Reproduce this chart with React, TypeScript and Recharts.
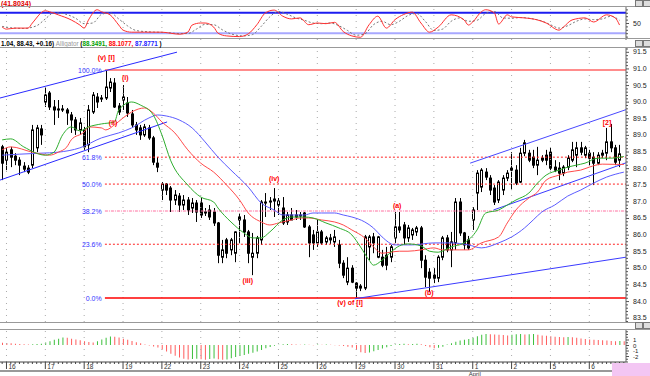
import React from "react";
import { ComposedChart, Bar, Line, XAxis, YAxis, ReferenceLine, ReferenceDot, Cell } from "recharts";

const FONT = "'Liberation Sans', Arial, sans-serif";
const N = 145;

// day starts (candle index) and their labels
const dayIdx = [1, 10, 19, 28, 37, 46, 55, 64, 73, 82, 91, 100, 109, 118, 127, 136];
const dayLabels = ["16", "17", "18", "19", "22", "23", "24", "25", "26", "29", "30", "31", "1", "2", "5", "6"];
const monthIdx = [109];
const monthLabels = ["April"];

const opens = [88.64,88.24,88.55,88.36,88.24,88.06,88.00,88.09,88.61,89.18,
89.99,90.26,89.84,89.78,89.78,89.75,89.60,89.45,89.15,89.15,
88.70,89.69,90.14,90.11,90.11,90.41,90.56,89.87,90.05,89.96,
89.63,89.30,89.21,89.00,89.21,88.91,88.15,87.34,87.52,87.40,
87.04,87.16,86.89,87.04,86.80,86.95,86.95,86.68,86.74,86.68,
86.35,85.32,85.84,85.54,85.44,86.53,86.44,86.08,85.32,85.44,
85.84,86.95,86.98,87.01,86.89,86.80,86.38,86.59,86.59,86.56,
86.65,86.23,85.99,85.75,86.08,85.78,85.84,85.78,85.69,85.14,
84.57,84.99,84.54,84.39,84.39,85.63,85.93,85.32,85.32,85.38,
85.32,85.90,86.23,86.29,85.90,85.99,86.08,86.20,85.23,84.87,
84.78,84.69,85.32,85.90,85.54,85.75,86.98,86.05,85.84,86.44,
87.25,87.43,87.88,87.70,87.40,87.04,87.34,87.70,88.00,87.94,
87.58,88.45,88.45,88.33,88.09,88.24,88.39,88.48,88.03,88.00,
87.85,88.03,88.24,88.39,88.61,88.39,88.45,88.33,88.15,88.39,
88.45,88.79,88.61,88.24];
const highs = [88.70,88.61,88.64,88.45,88.33,88.18,88.09,89.30,89.30,89.30,
90.44,90.32,90.05,90.05,89.90,89.81,89.69,89.54,89.51,89.24,
89.90,90.29,90.26,90.20,90.95,90.71,90.71,89.96,90.50,90.14,
89.75,89.39,89.30,89.33,89.30,88.97,88.33,87.58,87.55,87.46,
87.34,87.25,87.19,87.13,87.10,87.04,87.10,86.80,86.89,86.80,
86.38,85.84,85.90,85.90,86.10,86.65,86.59,86.14,86.05,85.96,
87.04,87.25,87.13,87.40,87.10,87.13,86.68,86.80,86.74,86.68,
86.68,86.29,86.14,86.44,86.14,85.96,86.02,86.14,85.84,85.23,
85.32,85.08,84.57,84.51,85.99,85.99,86.05,85.96,85.54,85.63,
85.69,86.68,86.68,86.38,86.29,86.20,86.26,86.26,85.38,84.99,
84.99,85.38,85.96,85.99,86.08,87.10,87.10,86.08,85.96,86.83,
87.94,88.00,88.00,87.79,87.49,87.64,87.79,87.94,88.48,88.09,
88.61,88.85,88.55,88.55,88.64,88.39,88.55,88.61,88.24,88.18,
88.09,88.39,88.79,88.79,88.79,88.67,88.55,88.48,88.48,88.55,
89.21,89.33,88.70,88.70];
const lows = [87.64,87.94,88.03,88.09,87.79,87.88,87.82,88.00,88.48,88.70,
89.84,89.75,89.30,89.51,89.69,89.30,89.06,89.00,89.00,88.55,
88.48,89.63,89.81,89.99,90.05,90.29,89.81,89.60,89.75,89.54,
89.21,89.00,88.85,88.94,88.85,88.09,87.88,87.04,87.19,86.68,
86.89,86.68,86.74,86.59,86.65,86.38,86.50,86.56,86.44,86.26,
85.14,85.14,85.29,85.38,85.17,85.75,85.93,85.14,84.78,85.29,
85.69,86.53,86.74,86.53,86.59,86.29,86.29,86.44,86.44,86.44,
86.20,85.32,85.54,85.63,85.69,85.69,85.72,85.63,84.99,84.69,
84.48,84.54,84.09,84.30,84.33,85.23,85.44,85.29,85.02,84.93,
85.17,85.75,86.05,85.69,85.78,85.84,85.96,84.99,84.42,84.27,
84.54,84.57,85.23,85.47,85.02,85.54,85.96,85.54,85.54,86.14,
86.74,87.28,87.64,87.19,86.89,86.95,87.19,87.61,87.34,87.49,
87.55,88.36,88.18,88.00,87.79,88.18,88.09,87.94,87.88,87.64,
87.76,87.94,88.18,88.03,88.39,88.30,88.09,87.49,88.09,88.30,
88.24,88.48,88.09,88.03];
const closes = [88.15,88.48,88.33,88.24,88.09,87.97,87.88,89.15,89.21,89.00,
90.20,89.84,89.75,89.75,89.77,89.66,89.45,89.15,89.36,88.64,
89.75,90.20,89.99,90.08,90.44,90.59,89.84,89.69,90.14,89.66,
89.30,89.15,89.00,89.24,88.91,88.18,88.03,87.52,87.34,87.04,
87.19,86.89,87.04,86.74,86.95,86.68,86.59,86.65,86.53,86.35,
85.38,85.54,85.44,85.84,86.08,86.44,86.08,85.44,85.44,85.90,
86.98,86.98,87.01,87.07,87.01,86.35,86.59,86.44,86.53,86.59,
86.23,85.75,85.75,86.08,85.75,85.90,85.90,85.93,85.14,84.78,
84.99,84.57,84.39,84.45,85.93,85.93,85.75,85.93,85.08,85.08,
85.63,86.23,86.14,85.90,86.20,86.14,86.20,85.23,84.72,84.69,
84.69,85.32,85.90,85.54,85.78,86.98,86.05,85.69,85.60,86.74,
87.85,87.94,87.73,87.34,86.98,87.58,87.70,87.85,87.94,87.55,
88.45,88.76,88.24,88.09,88.24,88.30,88.24,88.00,87.94,87.85,
88.03,88.30,88.55,88.61,88.48,88.61,88.30,88.15,88.39,88.45,
88.79,88.61,88.18,88.43];

// Alligator lines, read at sample candles: [index, price]
const lipsPts: [number, number][] = [[0,88.85],[2,88.88],[5,88.64],[10,88.39],[12,88.48],[14,89.00],[16,89.24],[18,89.12],[20,89.24],[23,89.33],[26,89.39],[27,89.75],[30,89.99],[32,89.90],[35,89.60],[37,89.00],[39,88.24],[43,87.49],[46,87.13],[49,86.98],[50,86.80],[53,86.38],[56,86.05],[58,85.90],[60,85.90],[62,86.08],[65,86.44],[67,86.53],[70,86.53],[72,86.50],[75,86.35],[78,86.20],[81,85.99],[83,85.63],[85,85.23],[86,85.08],[88,85.23],[90,85.47],[92,85.66],[94,85.72],[97,85.66],[99,85.50],[101,85.47],[104,85.63],[107,85.75],[110,86.14],[112,86.65],[115,86.74],[117,86.89],[119,87.04],[122,87.25],[124,87.55],[126,87.79],[129,87.94],[131,88.03],[133,88.09],[135,88.15],[138,88.30],[141,88.30],[144,88.35]];
const teethPts: [number, number][] = [[0,88.55],[2,88.64],[7,88.48],[11,88.39],[13,88.48],[15,88.64],[16,88.85],[19,89.09],[20,89.24],[23,89.21],[24,89.15],[26,89.30],[28,89.51],[30,89.69],[33,89.81],[35,89.66],[37,89.39],[40,89.06],[43,88.55],[46,88.15],[49,87.88],[52,87.49],[55,87.04],[57,86.65],[60,86.38],[62,86.29],[64,86.35],[67,86.44],[69,86.50],[71,86.50],[74,86.44],[77,86.38],[79,86.29],[81,86.14],[84,85.90],[86,85.63],[88,85.44],[90,85.47],[92,85.50],[94,85.50],[97,85.54],[100,85.60],[102,85.54],[106,85.54],[108,85.54],[111,85.75],[115,85.93],[117,86.35],[119,86.74],[122,87.10],[124,87.28],[126,87.64],[129,87.79],[131,87.88],[134,87.94],[136,88.03],[139,88.12],[144,88.11]];
const jawPts: [number, number][] = [[0,88.39],[4,88.42],[9,88.45],[13,88.48],[18,88.61],[23,88.91],[27,89.06],[30,89.21],[34,89.51],[36,89.60],[38,89.57],[41,89.45],[44,89.21],[47,88.79],[50,88.33],[53,87.94],[57,87.43],[60,86.95],[63,86.74],[65,86.59],[67,86.59],[70,86.59],[72,86.65],[74,86.65],[77,86.65],[79,86.59],[81,86.53],[84,86.38],[86,86.20],[88,85.93],[91,85.69],[93,85.69],[95,85.69],[100,85.75],[104,85.75],[108,85.69],[111,85.60],[115,85.75],[118,85.93],[121,86.20],[123,86.44],[125,86.68],[128,86.89],[131,87.16],[134,87.34],[137,87.55],[140,87.73],[144,87.88]];

// Stochastic %K (red) and %D (dotted)
const stochKPts: [number, number][] = [[0,38],[1,32],[3,35],[6,35],[7,50],[10,86],[11,83],[13,74],[16,59],[18,44],[19,35],[20,59],[22,89],[23,83],[25,74],[27,44],[28,29],[30,23],[33,23],[35,23],[37,23],[39,20],[41,17],[43,23],[44,44],[46,50],[47,50],[49,38],[50,20],[52,12],[55,10],[57,18],[59,45],[61,80],[63,88],[65,70],[67,62],[69,65],[71,45],[73,50],[75,48],[77,52],[79,25],[81,12],[83,8],[85,45],[87,70],[89,35],[91,60],[93,75],[95,82],[97,50],[99,23],[101,38],[104,74],[107,59],[108,44],[109,53],[111,83],[112,89],[114,80],[115,47],[117,74],[118,68],[121,65],[124,59],[126,50],[129,29],[130,38],[132,59],[135,65],[137,53],[140,74],[142,65],[143,44]];
const stochDPts: [number, number][] = [[0,40],[2,36],[5,34],[8,42],[10,62],[12,80],[14,78],[17,64],[19,48],[21,50],[23,75],[25,80],[27,62],[29,42],[31,28],[34,24],[38,22],[41,19],[43,19],[45,32],[47,46],[49,45],[51,30],[53,18],[56,12],[58,16],[60,40],[62,68],[64,84],[66,76],[68,65],[70,58],[72,50],[74,48],[76,50],[78,42],[80,28],[82,14],[84,18],[86,45],[88,55],[90,45],[92,55],[94,72],[96,78],[98,55],[100,28],[102,32],[104,55],[106,65],[108,55],[110,58],[112,78],[114,84],[116,65],[118,64],[120,66],[123,62],[125,56],[127,45],[129,35],[131,42],[133,55],[135,62],[137,60],[139,62],[141,70],[143,58]];

// Awesome oscillator
const aoValues = [0.4,0.35,0.3,0.25,0.2,0.15,0.1,0.15,0.2,0.25,
0.45,0.7,0.95,1.15,1.35,
1.3,1.15,1.0,0.85,0.7,0.55,0.45,
0.7,1.0,1.3,1.55,
1.5,1.35,1.15,0.95,0.75,0.5,0.3,
0.1,-0.1,-0.25,-0.45,
-0.8,-1.2,-1.6,-1.95,-2.25,-2.5,-2.65,
-2.55,-2.5,-2.6,-2.7,-2.55,-2.45,-2.6,-2.7,-2.65,-2.4,
-2.2,-2.0,-1.8,-1.6,-1.4,-1.2,-0.9,-0.6,
-0.35,-0.15,0.05,0.15,0.2,0.15,0.1,0.05,0.1,0.05,-0.05,0.1,0.05,
0.1,0.05,-0.05,-0.1,-0.2,-0.3,-0.45,
-0.9,-1.3,-1.45,
-1.35,-1.15,-0.9,-0.65,-0.4,-0.2,
0.1,0.2,0.25,0.15,0.2,0.25,0.15,
-0.2,-0.4,-0.6,-0.5,
-0.3,0.1,0.3,0.6,0.8,0.95,1.1,
1.3,1.6,1.85,2.0,
1.95,1.9,1.85,1.8,1.75,
1.85,1.95,2.0,1.9,1.95,2.0,1.85,1.75,1.7,
1.6,1.5,1.45,1.4,1.45,1.4,1.3,1.2,1.1,
1.0,0.95,0.9,0.85,0.8,0.75,0.7,0.75,0.7];

// price axis labels
const priceTicks = [83.5,84,84.5,85,85.5,86,86.5,87,87.5,88,88.5,89,89.5,90,90.5,91,91.5];

// Fibonacci retracement levels
const fibLabels = ["100.0%", "61.8%", "50.0%", "38.2%", "23.6%", "0.0%"];
const fibValues = [90.95, 88.33, 87.52, 86.71, 85.71, 84.09];
const fibStartIdx = 23.8;
const fibLabelIdx = 23.3;

// trend lines: [x1, y1, x2, y2] in (candle index, price)
const trendLines: [number, number, number, number][] = [
  [-0.5, 90.11, 40.5, 91.49],
  [-0.5, 87.64, 38.2, 89.39],
  [81.7, 84.07, 144.5, 85.32],
  [108.4, 88.15, 144.5, 89.76],
  [113.8, 86.74, 144.5, 88.16],
];

// Elliott wave labels
const waveLabels = ["(v) [I]", "(i)", "(ii)", "(iii)", "(iv)", "(v) of [I]", "(a)", "(b)", "[2]"];
const waveIdx = [24.1, 28.5, 25.7, 56.9, 63.0, 80.6, 91.5, 98.9, 140.1];
const wavePrice = [91.34, 90.74, 89.36, 84.63, 87.70, 83.97, 86.89, 84.27, 89.36];

const table = Array.from({ length: N }, (_, i) => ({
  i,
  open: opens[i] ?? null,
  high: highs[i] ?? null,
  low: lows[i] ?? null,
  close: closes[i] ?? null,
  range: opens[i] != null ? [lows[i], highs[i]] : null,
  lips: null as number | null,
  teeth: null as number | null,
  jaw: null as number | null,
  k: null as number | null,
  d: null as number | null,
  ao: aoValues[i] ?? null,
}));
lipsPts.forEach(([i, v]) => (table[i].lips = v));
teethPts.forEach(([i, v]) => (table[i].teeth = v));
jawPts.forEach(([i, v]) => (table[i].jaw = v));
stochKPts.forEach(([i, v]) => (table[i].k = v));
stochDPts.forEach(([i, v]) => (table[i].d = v));

const allIdx = table.map((r) => r.i);
const minorPriceTicks = Array.from({ length: 83 }, (_, k) => Math.round((83.4 + k * 0.1) * 10) / 10);
const stochTicks = [0, 10, 20, 30, 40, 50, 60, 70, 80, 90, 100];
const stochLabels = [50];
const aoTicks = [-3, -2.5, -2, -1.5, -1, -0.5, 0, 0.5, 1, 1.5, 2, 2.5];
const aoLabels = [1, 0, -1, -2];

const Candle = (props: any) => {
  const { x, y, width, height, payload } = props;
  if (!payload || payload.open == null) return <g />;
  const { open, close, high, low } = payload;
  const yTop = Math.min(y, y + height);
  const yBot = Math.max(y, y + height);
  const span = high - low || 1;
  const toY = (v: number) => yTop + ((high - v) / span) * (yBot - yTop);
  const cx = Math.round(x + width / 2);
  const yo = toY(open);
  const yc = toY(close);
  const bodyTop = Math.min(yo, yc);
  const bodyH = Math.max(1, Math.abs(yo - yc));
  const up = close >= open;
  return (
    <g>
      <line x1={cx + 0.5} x2={cx + 0.5} y1={yTop} y2={yBot} stroke="#000" strokeWidth={1} />
      <rect x={cx - 0.5} y={bodyTop} width={2} height={bodyH} fill={up ? "#fff" : "#000"} stroke="#000" strokeWidth={1} />
    </g>
  );
};

const makeYTick = (labels: number[], fmt: (v: number) => string, size: number) => (props: any) => {
  const { x, y, payload } = props;
  const v = payload.value;
  const major = labels.some((l) => Math.abs(l - v) < 1e-6);
  return (
    <g>
      <line x1={x} x2={x + (major ? 3 : 2)} y1={y + 0.5} y2={y + 0.5} stroke="#555" strokeWidth={1} />
      {major && (
        <text x={x + 7} y={y + 2.5} fontSize={size} fill="#222" fontFamily={FONT}>
          {fmt(v)}
        </text>
      )}
    </g>
  );
};

const PriceTick = makeYTick(priceTicks, (v) => v.toFixed(1), 7);
const StochTick = makeYTick(stochLabels, (v) => String(v), 7);
const AoTick = makeYTick(aoLabels, (v) => String(v), 6);

const XTick = (props: any) => {
  const { x, y, payload } = props;
  const d = dayIdx.indexOf(payload.value);
  const m = monthIdx.indexOf(payload.value);
  if (d < 0) return <line x1={x} x2={x} y1={y} y2={y + 2} stroke="#444" strokeWidth={1} />;
  return (
    <g>
      <line x1={x} x2={x} y1={y} y2={y + 7} stroke="#444" strokeWidth={1} />
      <text x={x + 2} y={y + 6.5} fontSize={6.5} fill="#333" fontFamily={FONT}>
        {dayLabels[d]}
      </text>
      {m >= 0 && (
        <text x={x - 4} y={y + 13.5} fontSize={6} fill="#333" fontFamily={FONT}>
          {monthLabels[m]}
        </text>
      )}
    </g>
  );
};

const WaveLabel = (props: any) => {
  const { viewBox, text } = props;
  if (!viewBox) return null;
  const cx = viewBox.x + (viewBox.width || 0) / 2;
  const cy = viewBox.y + (viewBox.height || 0) / 2;
  return (
    <text x={cx} y={cy + 2.5} textAnchor="middle" fontSize={7} fontWeight="bold" fill="#ff0000" fontFamily={FONT}>
      {text}
    </text>
  );
};

const FibLabel = (props: any) => {
  const { viewBox, text } = props;
  if (!viewBox) return null;
  return (
    <text x={viewBox.x - 1} y={viewBox.y + 2.5} textAnchor="end" fontSize={7} fill="#3535ff" fontFamily={FONT}>
      {text}
    </text>
  );
};

const hline = (top: number, color = "#888", h = 1) => (
  <div style={{ position: "absolute", left: 0, top, width: 650, height: h, background: color }} />
);

const Icons = ({ top }: { top: number }) => (
  <div style={{ position: "absolute", left: 635, top, width: 15, height: 6 }}>
    <div style={{ position: "absolute", left: 0, top: 0, width: 6, height: 5, border: "1px solid #777", background: "#ddd" }} />
    <div style={{ position: "absolute", left: 8, top: 0, width: 6, height: 5, border: "1px solid #777", background: "#ddd" }} />
  </div>
);

const fibStroke = ["#ff8c8c", "#ff2020", "#ff2020", "#ff70a0", "#ff2020", "#ff0000"];
const fibDash = [undefined, "2 2", "2 2", "3 1 1 1", "2 2", undefined];
const fibWidth = [2, 1, 1, 1, 1, 1.5];
const trendStroke = ["#2a2aff", "#2a2aff", "#3a3aff", "#4848ff", "#3a3aff"];

export default function App() {
  return (
    <div style={{ position: "absolute", left: 0, top: 0, width: 650, height: 376, background: "#fff", overflow: "hidden", fontFamily: FONT }}>
      {/* Stochastic panel */}
      <div style={{ position: "absolute", left: 0, top: 0 }}>
        <ComposedChart width={650} height={40} data={table} margin={{ top: 6, right: 0, bottom: 0, left: 0 }}>
          <XAxis dataKey="i" type="number" domain={[-0.5, N - 0.5]} hide />
          <YAxis orientation="right" width={24} domain={[0, 100]} ticks={stochTicks} interval={0} tickLine={false} tickSize={0} tickMargin={0} axisLine={{ stroke: "#666" }} tick={<StochTick />} allowDataOverflow />
          {dayIdx.map((d) => (
            <ReferenceLine key={"sd" + d} x={d} stroke="#aaa" strokeDasharray="1 5" />
          ))}
          <ReferenceLine y={80} stroke="#1c1cf0" strokeWidth={2} />
          <ReferenceLine y={20} stroke="#a8a8ff" strokeWidth={2} />
          <Line type="monotone" dataKey="d" stroke="#777" strokeWidth={1} strokeDasharray="2 2" dot={false} connectNulls isAnimationActive={false} />
          <Line type="monotone" dataKey="k" stroke="#ff3030" strokeWidth={1} dot={false} connectNulls isAnimationActive={false} />
        </ComposedChart>
      </div>
      <div style={{ position: "absolute", left: 1, top: 0, fontSize: 7, fontWeight: "bold", color: "#e00000", lineHeight: "7px" }}>(41.8034)</div>
      {hline(6, "#999")}
      <Icons top={0} />

      {/* main header */}
      {hline(38, "#999")}
      {hline(47, "#999")}
      <div style={{ position: "absolute", left: 1, top: 39.5, fontSize: 6.3, lineHeight: "7px", fontWeight: "bold", whiteSpace: "nowrap", color: "#000" }}>
        <span>1.04, 88.43, +0.16)</span>{" "}
        <span style={{ color: "#999", fontWeight: "normal" }}>Alligator</span>{" "}
        <span>(</span>
        <span style={{ color: "#00a000" }}>88.3491,</span>{" "}
        <span style={{ color: "#ff0000" }}>88.1077,</span>{" "}
        <span style={{ color: "#2020ff" }}>87.8771</span>
        <span> )</span>
      </div>
      <Icons top={40} />

      {/* Main price panel */}
      <div style={{ position: "absolute", left: 0, top: 48 }}>
        <ComposedChart width={650} height={274} data={table} margin={{ top: 0, right: 0, bottom: 0, left: 0 }}>
          <XAxis dataKey="i" type="number" domain={[-0.5, N - 0.5]} hide />
          <YAxis orientation="right" width={24} domain={[83.37, 91.615]} ticks={minorPriceTicks} interval={0} tickLine={false} tickSize={0} tickMargin={0} axisLine={{ stroke: "#666" }} tick={<PriceTick />} allowDataOverflow />
          {dayIdx.map((d) => (
            <ReferenceLine key={"md" + d} x={d} stroke="#aaa" strokeDasharray="1 5" />
          ))}
          {fibValues.map((v, k) => (
            <ReferenceLine key={"fib" + k} segment={[{ x: fibStartIdx, y: v }, { x: N - 0.5, y: v }]} stroke={fibStroke[k]} strokeWidth={fibWidth[k]} strokeDasharray={fibDash[k]} />
          ))}
          {trendLines.map((t, k) => (
            <ReferenceLine key={"tl" + k} segment={[{ x: t[0], y: t[1] }, { x: t[2], y: t[3] }]} stroke={trendStroke[k]} strokeWidth={1} />
          ))}
          <Line type="monotone" dataKey="jaw" stroke="#5c5cff" strokeWidth={1} dot={false} connectNulls isAnimationActive={false} />
          <Line type="monotone" dataKey="teeth" stroke="#ff4a4a" strokeWidth={1} dot={false} connectNulls isAnimationActive={false} />
          <Line type="monotone" dataKey="lips" stroke="#2fae2f" strokeWidth={1} dot={false} connectNulls isAnimationActive={false} />
          <Bar dataKey="range" barSize={4} shape={(p: any) => <Candle {...p} />} isAnimationActive={false} />
          {fibValues.map((v, k) => (
            <ReferenceDot key={"fl" + k} x={fibLabelIdx} y={v} r={0} fill="none" stroke="none" label={<FibLabel text={fibLabels[k]} />} />
          ))}
          {waveLabels.map((w, k) => (
            <ReferenceDot key={"wl" + k} x={waveIdx[k]} y={wavePrice[k]} r={0} fill="none" stroke="none" label={<WaveLabel text={w} />} />
          ))}
        </ComposedChart>
      </div>

      {/* AO header */}
      {hline(322, "#999")}
      {hline(329, "#999")}
      <Icons top={322} />

      {/* AO panel + date axis */}
      <div style={{ position: "absolute", left: 0, top: 329 }}>
        <ComposedChart width={650} height={47} data={table} margin={{ top: 1, right: 0, bottom: 0, left: 0 }}>
          <XAxis dataKey="i" type="number" domain={[-0.5, N - 0.5]} ticks={allIdx} interval={0} height={14} tickLine={false} tickSize={0} tickMargin={0} axisLine={{ stroke: "#444" }} tick={<XTick />} />
          <YAxis orientation="right" width={24} domain={[-3.09, 2.73]} ticks={aoTicks} interval={0} tickLine={false} tickSize={0} tickMargin={0} axisLine={{ stroke: "#666" }} tick={<AoTick />} allowDataOverflow />
          {dayIdx.map((d) => (
            <ReferenceLine key={"ad" + d} x={d} stroke="#aaa" strokeDasharray="1 5" />
          ))}
          <Bar dataKey="ao" barSize={1} isAnimationActive={false}>
            {table.map((r, k) => (
              <Cell key={"c" + k} fill={k > 0 && r.ao != null && table[k - 1].ao != null && (r.ao as number) > (table[k - 1].ao as number) ? "#3cbf3c" : "#ff5c5c"} />
            ))}
          </Bar>
        </ComposedChart>
      </div>
      <div style={{ position: "absolute", left: 0, top: 370, width: 612, height: 2, background: "#999" }} />
      <div style={{ position: "absolute", left: 612, top: 363, width: 38, height: 13, background: "#f3c6f3" }} />
    </div>
  );
}
